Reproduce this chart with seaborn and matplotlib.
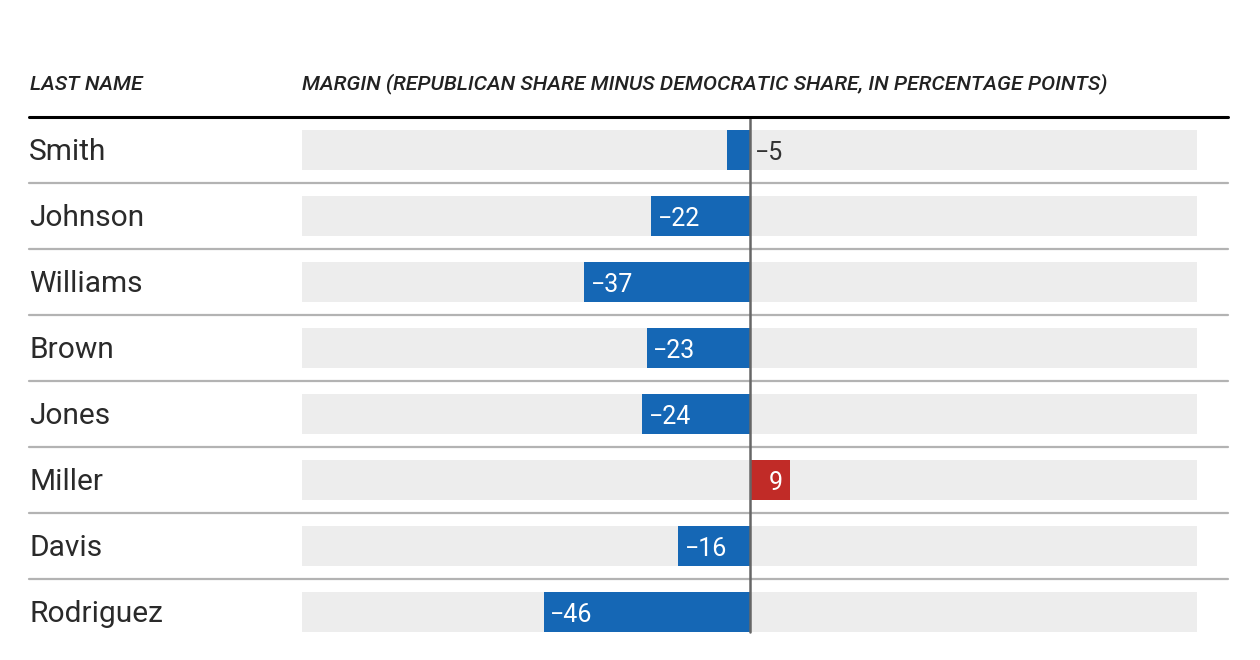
import matplotlib
matplotlib.use('Agg')
import matplotlib.pyplot as plt
import seaborn as sns
import pandas as pd

# data
names = ['Smith', 'Johnson', 'Williams', 'Brown', 'Jones', 'Miller', 'Davis', 'Rodriguez']
margins = [-5, -22, -37, -23, -24, 9, -16, -46]
header_left = 'LAST NAME'
header_right = 'MARGIN (REPUBLICAN SHARE MINUS DEMOCRATIC SHARE, IN PERCENTAGE POINTS)'

BLUE = '#1567B5'
RED = '#C12B27'
BG = '#EDEDED'
SEP = '#B3B3B3'

df = pd.DataFrame({'name': names, 'margin': margins})
df['party'] = ['R' if m > 0 else 'D' for m in df['margin']]

sns.set_style('white')
plt.rcParams['font.family'] = ['Roboto', 'DejaVu Sans']

fig = plt.figure(figsize=(12.6, 6.6), dpi=100)
W, H = 1260, 660
# axes: x -100..100 spans px 302..1197, rows from px 117 to 645
ax = fig.add_axes([302 / W, 1 - 645 / H, 895 / W, (645 - 117) / H])

# grey background track
ax.barh(range(len(names)), [200] * len(names), left=-100, height=0.6, color=BG, lw=0, zorder=0)

sns.barplot(data=df, x='margin', y='name', hue='party', palette={'D': BLUE, 'R': RED},
            orient='h', dodge=False, width=0.6, legend=False, ax=ax, saturation=1,
            linewidth=0, zorder=2)

ax.set_xlim(-100, 100)
ax.set_ylim(len(names) - 0.5, -0.5)
ax.axis('off')

# centre line
ax.plot([0, 0], [-0.5, len(names) - 0.7], color='#666666', lw=1.8, zorder=3, clip_on=False)

# row separators and header rule
for i in range(len(names) - 1):
    ax.plot([-161, 107], [i + 0.5, i + 0.5], color=SEP, lw=1.6, clip_on=False, zorder=1)
ax.plot([-161, 107], [-0.5, -0.5], color='black', lw=2.2, clip_on=False, zorder=4)

# names and value labels
for i, (n, v) in enumerate(zip(names, margins)):
    ax.text(-161, i + 0.03, n, ha='left', va='center', fontsize=21.5, color='#2a2a2a')
    label = str(v).replace('-', '\u2212')
    if v < 0 and abs(v) >= 10:
        ax.text(v + 1.5, i + 0.05, label, ha='left', va='center', fontsize=18, color='white', zorder=5)
    elif v < 0:
        ax.text(1.2, i + 0.05, label, ha='left', va='center', fontsize=18, color='#333333', zorder=5)
    else:
        ax.text(v - 1.5, i + 0.05, label, ha='right', va='center', fontsize=18, color='white', zorder=5)

# header
hkw = dict(fontsize=15.2, style='italic', weight='medium', color='#222222')
fig.text(30 / W, 1 - 84 / H, header_left, ha='left', va='center', **hkw)
fig.text(302 / W, 1 - 84 / H, header_right, ha='left', va='center', **hkw)

plt.savefig('out.png', dpi=100)
plt.close()
